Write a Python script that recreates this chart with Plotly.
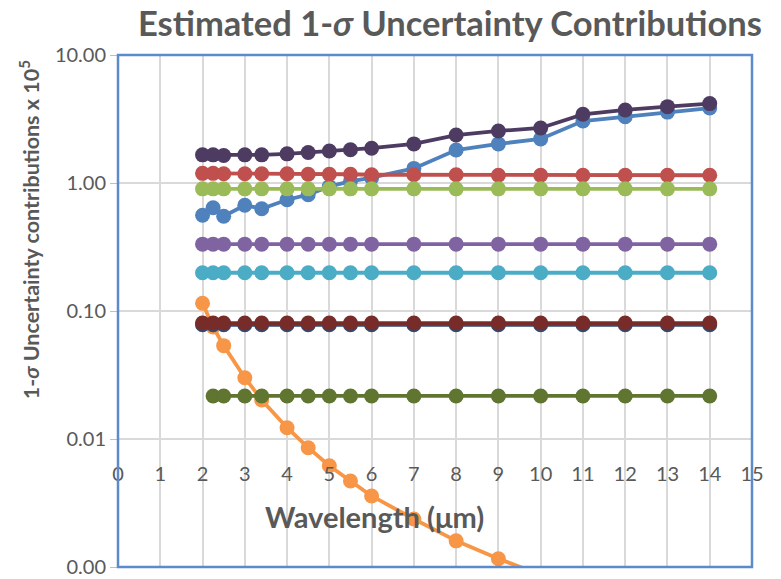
import plotly.graph_objects as go

wavelength = [2, 2.25, 2.5, 3, 3.4, 4, 4.5, 5, 5.5, 6, 7, 8, 9, 10, 11, 12, 13, 14]

s_blue = [0.56, 0.64, 0.55, 0.67, 0.63, 0.74, 0.81, 0.94, 1.03, 1.1, 1.3, 1.81, 2.02, 2.21, 3.05, 3.3, 3.58, 3.85]
s_red = [1.19, 1.19, 1.18, 1.18, 1.18, 1.18, 1.17, 1.17, 1.17, 1.16, 1.16, 1.16, 1.15, 1.15, 1.15, 1.15, 1.15, 1.15]
s_green = [0.90] * 18
s_purple = [0.333] * 18
s_cyan = [0.199] * 18
orange_x = [2, 2.25, 2.5, 3, 3.4, 4, 4.5, 5, 5.5, 6, 7, 8, 9, 10]
s_orange = [0.115, 0.075, 0.0536, 0.0301, 0.0202, 0.01225, 0.00855, 0.00618, 0.0047, 0.00359, 0.00237, 0.0016, 0.00116, 0.00087]
s_darkblue = [0.078] * 18
s_maroon = [0.0805] * 18
olive_x = wavelength[1:]
s_olive = [0.0217] * 17
s_darkpurple = [1.66, 1.66, 1.64, 1.66, 1.66, 1.69, 1.73, 1.78, 1.82, 1.87, 2.02, 2.37, 2.55, 2.69, 3.44, 3.72, 3.95, 4.17]

series = [
    ("Series 1", wavelength, s_blue, "#4F81BD"),
    ("Series 2", wavelength, s_red, "#C0504D"),
    ("Series 3", wavelength, s_green, "#9BBB59"),
    ("Series 4", wavelength, s_purple, "#8064A2"),
    ("Series 5", wavelength, s_cyan, "#4BACC6"),
    ("Series 6", orange_x, s_orange, "#F79646"),
    ("Series 7", wavelength, s_darkblue, "#2C4D75"),
    ("Series 8", wavelength, s_maroon, "#772C2A"),
    ("Series 9", olive_x, s_olive, "#5F7530"),
    ("Series 10", wavelength, s_darkpurple, "#4D3B62"),
]

fig = go.Figure()
for name, xs, ys, col in series:
    fig.add_trace(go.Scatter(x=xs, y=ys, name=name, mode="lines+markers",
                             line=dict(color=col, width=3.8),
                             marker=dict(color=col, size=15)))

FONT = "Lato"
GRAY = "#595959"

fig.update_layout(
    width=781, height=579,
    margin=dict(l=118, r=29, t=55, b=12, autoexpand=False),
    paper_bgcolor="white", plot_bgcolor="white",
    showlegend=False,
    font=dict(family=FONT, color=GRAY),
    xaxis=dict(range=[0, 15], dtick=1, tick0=0, showgrid=True, gridcolor="#D9D9D9",
               gridwidth=1.5, zeroline=False, showline=False, automargin=False,
               anchor="free", position=0.25,
               ticks="outside", ticklen=17, tickcolor="rgba(0,0,0,0)",
               tickfont=dict(family=FONT, size=20, color=GRAY)),
    yaxis=dict(type="log", range=[-3, 1], automargin=False,
               tickvals=[0.001, 0.01, 0.1, 1, 10],
               ticktext=["0.00", "0.01", "0.10", "1.00", "10.00"],
               showgrid=True, gridcolor="#D9D9D9", gridwidth=1.5, zeroline=False,
               showline=False, ticks="outside", ticklen=7, tickcolor="#BFBFBF",
               tickfont=dict(family=FONT, size=20, color=GRAY)),
    shapes=[dict(type="rect", xref="paper", yref="paper", x0=0, x1=1, y0=0, y1=1,
                 line=dict(color="#5B8BCB", width=2.5), layer="above")],
    annotations=[
        dict(text="<b>Estimated 1-<i>σ</i> Uncertainty Contributions</b>", xref="paper", yref="paper",
             x=0.524, y=1.064, xanchor="center", yanchor="middle", showarrow=False,
             font=dict(family=FONT, size=34.5, color=GRAY)),
        dict(text="<b>1-<i>σ</i> Uncertainty contributions x 10<sup>5</sup></b>", xref="paper", yref="paper",
             x=-0.14, y=0.658, xanchor="center", yanchor="middle", textangle=-90,
             showarrow=False, font=dict(family=FONT, size=21.5, color=GRAY)),
        dict(text="<b>Wavelength (μm)</b>", xref="x", yref="paper", x=6.08, y=0.098,
             xanchor="center", yanchor="middle", showarrow=False,
             font=dict(family=FONT, size=29, color=GRAY)),
    ],
)

fig.write_html("out.html")
